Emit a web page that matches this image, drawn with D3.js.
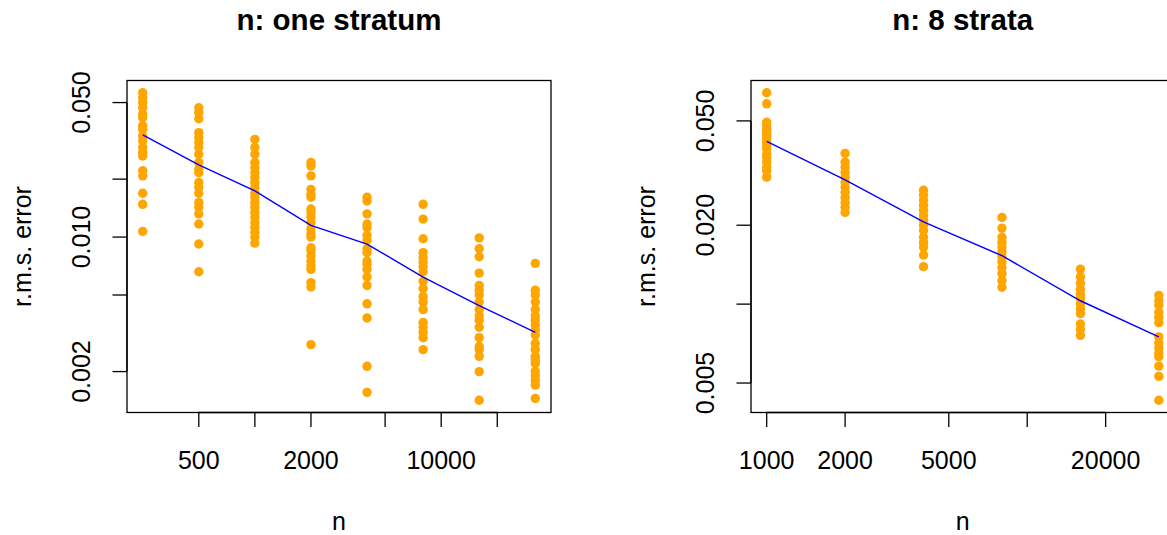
<!DOCTYPE html>
<html>
<head>
<meta charset="utf-8">
<script src="https://cdn.jsdelivr.net/npm/d3@7"></script>
<style>
  body { margin: 0; background: #fff; }
  svg { display: block; font-family: "Liberation Sans", Arial, sans-serif; }
</style>
</head>
<body>
<svg id="chart" width="1167" height="535"></svg>
<script>
// sample sizes for each panel
const nOneStratum = [250, 500, 1000, 2000, 4000, 8000, 16000, 32000];
const nEightStrata = [1000, 2000, 4000, 8000, 16000, 32000];

// r.m.s. error of each replicate, one list per n
const errOneStratum = [
    [0.0562, 0.0529, 0.0499, 0.0470, 0.0434, 0.0417, 0.0378, 0.0363, 0.0335, 0.0316, 0.0292, 0.0275, 0.0264, 0.0221, 0.0208, 0.0169, 0.0148, 0.0107],
    [0.0470, 0.0443, 0.0412, 0.0349, 0.0329, 0.0310, 0.0292, 0.0269, 0.0244, 0.0225, 0.0216, 0.0192, 0.0181, 0.0169, 0.0151, 0.0143, 0.0132, 0.0117, 0.0092, 0.0066],
    [0.0322, 0.0292, 0.0269, 0.0244, 0.0230, 0.0216, 0.0204, 0.0192, 0.0181, 0.0169, 0.0161, 0.0151, 0.0143, 0.0134, 0.0127, 0.0119, 0.0112, 0.0106, 0.0100, 0.0093],
    [0.0244, 0.0234, 0.0208, 0.0177, 0.0167, 0.0161, 0.0140, 0.0134, 0.0127, 0.0119, 0.0110, 0.0104, 0.0100, 0.0088, 0.0085, 0.0080, 0.0075, 0.0071, 0.0068, 0.0058, 0.0055, 0.00276],
    [0.0161, 0.0154, 0.0132, 0.0117, 0.0112, 0.0102, 0.0096, 0.0087, 0.0083, 0.0075, 0.0072, 0.0068, 0.0062, 0.0056, 0.0045, 0.0038, 0.00213, 0.00156],
    [0.0148, 0.0124, 0.0098, 0.0083, 0.0078, 0.0074, 0.0070, 0.0066, 0.0059, 0.0054, 0.0049, 0.0046, 0.0042, 0.0036, 0.0034, 0.0032, 0.0030, 0.0026],
    [0.0099, 0.0087, 0.0079, 0.0065, 0.0056, 0.0053, 0.0050, 0.0046, 0.0042, 0.0039, 0.0037, 0.0034, 0.0030, 0.0027, 0.0026, 0.0024, 0.0020, 0.00142],
    [0.0073, 0.0053, 0.0050, 0.0046, 0.0042, 0.0039, 0.0037, 0.0035, 0.0033, 0.0031, 0.0028, 0.0026, 0.0024, 0.0023, 0.0022, 0.0020, 0.0019, 0.0018, 0.0017, 0.00145]
];
const errEightStrata = [
    [0.0640, 0.0581, 0.0494, 0.0480, 0.0466, 0.0453, 0.0440, 0.0427, 0.0415, 0.0403, 0.0391, 0.0374, 0.0363, 0.0348, 0.0333, 0.0323, 0.0305],
    [0.0376, 0.0348, 0.0333, 0.0318, 0.0305, 0.0291, 0.0279, 0.0267, 0.0255, 0.0244, 0.0234, 0.0224],
    [0.0272, 0.0260, 0.0249, 0.0238, 0.0228, 0.0218, 0.0209, 0.0200, 0.0191, 0.0180, 0.0172, 0.0165, 0.0154, 0.0139],
    [0.0214, 0.0195, 0.0180, 0.0172, 0.0165, 0.0158, 0.0151, 0.0145, 0.0138, 0.0131, 0.0123, 0.0116],
    [0.0136, 0.0127, 0.0120, 0.0114, 0.0109, 0.0105, 0.0100, 0.0096, 0.0092, 0.0084, 0.0080, 0.0076],
    [0.0108, 0.0103, 0.0099, 0.0093, 0.0089, 0.0085, 0.0075, 0.0071, 0.0068, 0.0065, 0.0063, 0.0058, 0.0053, 0.0043]
];

// overall r.m.s. error per n (blue line)
const rmsOneStratum = [0.0340, 0.0237, 0.0174, 0.0115, 0.0092, 0.0062, 0.0044, 0.0032];
const rmsEightStrata = [0.0418, 0.0298, 0.0206, 0.0153, 0.0103, 0.0075];

// axis ticks, and which of them get a label
const xTicksOne = [500, 1000, 2000, 5000, 10000, 20000];
const xLabelsOne = [500, 2000, 10000];
const yTicksOne = [0.002, 0.005, 0.01, 0.02, 0.05];
const yLabelsOne = [0.002, 0.01, 0.05];
const xTicksEight = [1000, 2000, 5000, 10000, 20000];
const xLabelsEight = [1000, 2000, 5000, 20000];
const yTicksEight = [0.005, 0.01, 0.02, 0.05];
const yLabelsEight = [0.005, 0.02, 0.05];

const svg = d3.select("#chart");

// R style 4% padding, done on the log scale
function padLog(lo, hi) {
    let f = Math.pow(hi / lo, 0.04);
    return [lo / f, hi * f];
}

function drawPanel(opts) {
    let left = opts.left, right = opts.right, top = 80.5, bottom = 412.5;
    let allErr = opts.err.flat();

    let x = d3.scaleLog()
        .domain(padLog(d3.min(opts.n), d3.max(opts.n)))
        .range([left, right]);
    let y = d3.scaleLog()
        .domain(padLog(d3.min(allErr), d3.max(allErr)))
        .range([bottom, top]);

    let g = svg.append("g");

    // points
    let pts = [];
    opts.n.forEach((n, i) => opts.err[i].forEach(e => pts.push([n, e])));
    g.selectAll("circle")
        .data(pts)
        .enter().append("circle")
        .attr("cx", d => x(d[0]))
        .attr("cy", d => y(d[1]))
        .attr("r", 4.7)
        .attr("fill", "#FFA500");

    // r.m.s. line
    let line = d3.line()
        .x((d, i) => x(opts.n[i]))
        .y(d => y(d));
    g.append("path")
        .datum(opts.rms)
        .attr("d", line)
        .attr("fill", "none")
        .attr("stroke", "#0000FF")
        .attr("stroke-width", 1.4);

    // box
    g.append("rect")
        .attr("x", left).attr("y", top)
        .attr("width", right - left).attr("height", bottom - top)
        .attr("fill", "none")
        .attr("stroke", "#000")
        .attr("stroke-width", 1.3);

    // x axis
    let xAxis = g.append("g");
    xAxis.append("line")
        .attr("x1", x(d3.min(opts.xTicks))).attr("x2", x(d3.max(opts.xTicks)))
        .attr("y1", bottom).attr("y2", bottom)
        .attr("stroke", "#000").attr("stroke-width", 1.3);
    xAxis.selectAll(".xtick")
        .data(opts.xTicks)
        .enter().append("line")
        .attr("x1", d => x(d)).attr("x2", d => x(d))
        .attr("y1", bottom).attr("y2", bottom + 14.5)
        .attr("stroke", "#000").attr("stroke-width", 1.3);
    xAxis.selectAll(".xlab")
        .data(opts.xLabels)
        .enter().append("text")
        .attr("x", d => x(d))
        .attr("y", bottom + 56)
        .attr("text-anchor", "middle")
        .style("font-size", "25px")
        .text(d => d);

    // y axis
    let yAxis = g.append("g");
    yAxis.append("line")
        .attr("x1", left).attr("x2", left)
        .attr("y1", y(d3.min(opts.yTicks))).attr("y2", y(d3.max(opts.yTicks)))
        .attr("stroke", "#000").attr("stroke-width", 1.3);
    yAxis.selectAll(".ytick")
        .data(opts.yTicks)
        .enter().append("line")
        .attr("x1", left - 14.5).attr("x2", left)
        .attr("y1", d => y(d)).attr("y2", d => y(d))
        .attr("stroke", "#000").attr("stroke-width", 1.3);
    yAxis.selectAll(".ylab")
        .data(opts.yLabels)
        .enter().append("text")
        .attr("transform", d => `translate(${left - 37},${y(d)}) rotate(-90)`)
        .attr("text-anchor", "middle")
        .style("font-size", "25px")
        .text(d => d3.format(".3f")(d));

    // titles
    let cx = (left + right) / 2;
    g.append("text")
        .attr("x", cx).attr("y", 30)
        .attr("text-anchor", "middle")
        .style("font-size", "29.5px")
        .style("font-weight", "bold")
        .text(opts.title);
    g.append("text")
        .attr("x", cx).attr("y", bottom + 117.5)
        .attr("text-anchor", "middle")
        .style("font-size", "25px")
        .text("n");
    g.append("text")
        .attr("transform", `translate(${left - 96},${(top + bottom) / 2}) rotate(-90)`)
        .attr("text-anchor", "middle")
        .style("font-size", "25px")
        .text("r.m.s. error");
}

drawPanel({
    left: 127, right: 551,
    n: nOneStratum, err: errOneStratum, rms: rmsOneStratum,
    xTicks: xTicksOne, xLabels: xLabelsOne,
    yTicks: yTicksOne, yLabels: yLabelsOne,
    title: "n: one stratum"
});

drawPanel({
    left: 751, right: 1174.5,
    n: nEightStrata, err: errEightStrata, rms: rmsEightStrata,
    xTicks: xTicksEight, xLabels: xLabelsEight,
    yTicks: yTicksEight, yLabels: yLabelsEight,
    title: "n: 8 strata"
});
</script>
</body>
</html>
